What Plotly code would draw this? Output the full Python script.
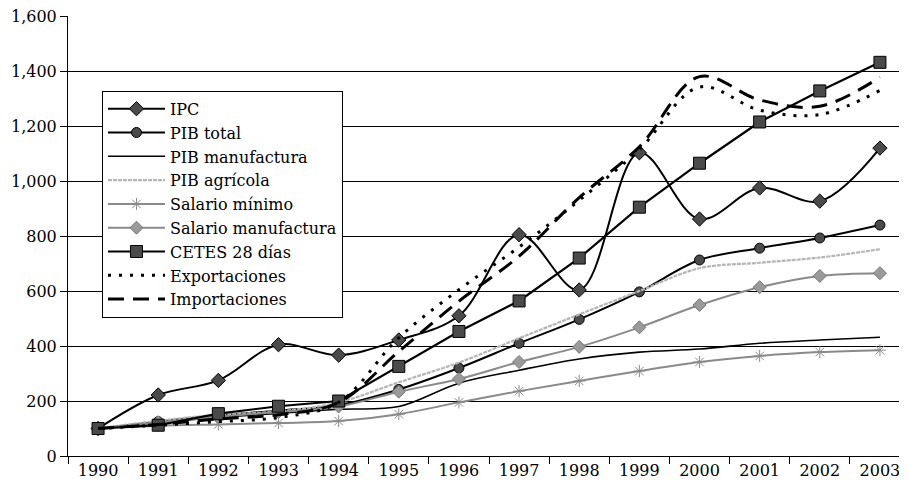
import plotly.graph_objects as go

years = [str(y) for y in range(1990, 2004)]

ipc = [100, 222, 275, 405, 367, 422, 510, 805, 604, 1103, 862, 975, 927, 1120]
pib_total = [100, 125, 148, 165, 185, 242, 320, 410, 497, 597, 713, 756, 793, 840]
pib_manufactura = [100, 122, 140, 155, 170, 180, 265, 312, 353, 378, 389, 410, 422, 432]
pib_agricola = [100, 128, 150, 162, 195, 268, 340, 428, 515, 600, 683, 703, 722, 752]
salario_minimo = [100, 110, 115, 120, 127, 152, 195, 236, 273, 309, 342, 364, 378, 385]
salario_manufactura = [100, 123, 143, 160, 180, 234, 280, 342, 397, 468, 549, 614, 655, 665]
cetes = [100, 112, 154, 181, 200, 326, 453, 564, 720, 905, 1065, 1215, 1328, 1432]
exportaciones = [100, 112, 125, 140, 195, 430, 605, 760, 930, 1115, 1342, 1258, 1242, 1330]
importaciones = [100, 115, 135, 150, 195, 380, 563, 727, 940, 1125, 1380, 1295, 1272, 1378]

y_ticks = list(range(0, 1601, 200))

FONT = "DejaVu Serif"
BLACK = "#000000"
GRAY = "#8a8a8a"
LIGHT = "#b5b5b5"
MFILL = "#4a4a4a"

fig = go.Figure()

def add(name, vals, color, width, dash="solid", symbol=None, msize=9,
        mfill=MFILL, mline=BLACK, shape="spline", mode=None):
    kw = {}
    if symbol:
        kw["marker"] = dict(symbol=symbol, size=msize, color=mfill,
                            line=dict(color=mline, width=1))
    fig.add_trace(go.Scatter(
        x=years, y=vals, name=name,
        mode=mode or ("lines+markers" if symbol else "lines"),
        line=dict(color=color, width=width, dash=dash, shape=shape, smoothing=1),
        **kw))

add("IPC", ipc, BLACK, 2, symbol="diamond", msize=11)
add("PIB total", pib_total, BLACK, 2, symbol="circle", msize=10)
add("PIB manufactura", pib_manufactura, BLACK, 1.6)
add("PIB agrícola", pib_agricola, LIGHT, 2.2, dash="4px,1px")
add("Salario mínimo", salario_minimo, GRAY, 2, symbol="asterisk-open", msize=10,
    mfill=GRAY, mline=GRAY)
add("Salario manufactura", salario_manufactura, GRAY, 2, symbol="diamond", msize=10,
    mfill="#9a9a9a", mline="#777777")
add("CETES 28 días", cetes, BLACK, 2.2, symbol="square", msize=12, shape="linear")
add("Exportaciones", exportaciones, BLACK, 3, dash="3px,8px")
add("Importaciones", importaciones, BLACK, 3, dash="16px,9px")

# page body has an 8px default margin: size the figure so the plot area
# lands at x 68..907, y 16..456 in the window
fig.update_layout(
    width=899, height=492,
    margin=dict(l=60, r=0, t=8, b=44),
    paper_bgcolor="white", plot_bgcolor="white",
    font=dict(family=FONT, size=16, color=BLACK),
    showlegend=True,
    legend=dict(
        x=0.0405, y=0.83, xanchor="left", yanchor="top",
        bgcolor="white", bordercolor=BLACK, borderwidth=1,
        font=dict(family=FONT, size=16, color=BLACK),
        itemwidth=57, tracegroupgap=0,
    ),
    xaxis=dict(
        type="category", range=[-0.5, 13.45],
        tickson="boundaries", ticks="outside", ticklen=7, tickcolor=BLACK,
        showline=True, linecolor=BLACK, linewidth=1,
        showgrid=False, tickfont=dict(family=FONT, size=16, color=BLACK),
    ),
    yaxis=dict(
        range=[0, 1600.5], tickvals=y_ticks, tickformat=",",
        ticks="outside", ticklen=7, tickcolor=BLACK,
        ticklabeloverflow="allow",
        showline=True, linecolor=BLACK, linewidth=1,
        showgrid=True, gridcolor=BLACK, gridwidth=1, zeroline=False,
        tickfont=dict(family=FONT, size=16, color=BLACK),
    ),
)

fig.write_html("out.html")
